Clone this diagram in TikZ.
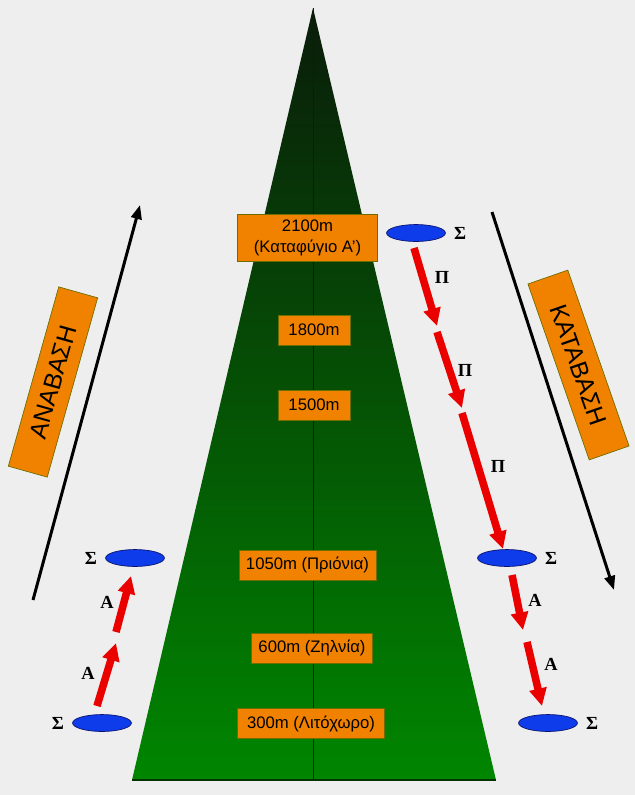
\documentclass[tikz,border=0pt]{standalone}
\usepackage{fontspec}
\setmainfont{Liberation Sans}
\newfontfamily\tnr{Liberation Serif}
\usetikzlibrary{arrows.meta,calc,positioning,shapes.geometric}
\definecolor{bgcol}{RGB}{238,238,238}
\definecolor{boxfill}{RGB}{240,130,0}
\definecolor{boxedge}{RGB}{110,110,0}
\definecolor{peak}{RGB}{10,28,10}
\definecolor{foot}{RGB}{0,134,0}
\definecolor{stopfill}{RGB}{15,60,235}
\definecolor{stopedge}{RGB}{10,20,110}
\definecolor{legred}{RGB}{235,0,0}
\tikzset{
  altbox/.style={draw=boxedge,fill=boxfill,font=\fontsize{9.5}{12}\selectfont,
    align=center,inner xsep=4pt,inner ysep=0pt,minimum height=17pt},
  dirbox/.style={altbox,font=\fontsize{14}{16}\selectfont,minimum width=106pt,minimum height=23pt},
  stopmark/.style={ellipse,draw=stopedge,fill=stopfill,minimum width=33.5pt,
    minimum height=9.6pt,inner sep=0pt},
  sig/.style={font=\tnr\bfseries\fontsize{10.5}{11}\selectfont,inner sep=0pt},
  legarrow/.style={draw=legred,line width=4.3pt,-{Triangle[length=10pt,width=9.5pt]}},
  wayarrow/.style={line width=1.7pt,-{Triangle[length=8pt,width=6pt]}}
}
\begin{document}
\begin{tikzpicture}[x=0.02cm,y=-0.02cm]
  \fill[bgcol] (0,0) rectangle (635,795);
  % mountain
  \shade[top color=peak,bottom color=foot] (313,8) -- (496,780) -- (132,780) -- cycle;
  \draw[black!85!green] (313,8) -- (313,780);
  \draw[black!80!green,line width=1pt] (132,780) -- (496,780);
  % altitudes
  \node[altbox,inner ysep=3pt,minimum width=80pt] (h2100) at (307.5,237.5) {2100m\\(Καταφύγιο Α’)};
  \node[altbox,minimum width=41pt] (h1800) at (314,330) {1800m};
  \node[altbox,minimum width=41pt] (h1500) at (314,405) {1500m};
  \node[altbox] (h1050) at (307.5,565) {1050m (Πριόνια)};
  \node[altbox] (h600) at (312,648) {600m (Ζηλνία)};
  \node[altbox,minimum width=84pt] (h300) at (311,723.5) {300m (Λιτόχωρο)};
  % up / down
  \node[dirbox,rotate=74.3] (up) at (53,382) {ΑΝΑΒΑΣΗ};
  \node[dirbox,rotate=-70.8,minimum height=24pt] (down) at (578.5,365) {ΚΑΤΑΒΑΣΗ};
  \coordinate (upa) at (33,600);
  \coordinate (upb) at (140,205);
  \coordinate (downa) at (492,212);
  \coordinate (downb) at (614,590);
  \draw[wayarrow] (upa) -- (upb);
  \draw[wayarrow] (downa) -- (downb);
  % stops
  \node[stopmark] (eTR) at (416,233) {};
  \node[stopmark] (eMR) at (507,558) {};
  \node[stopmark] (eBR) at (548,723) {};
  \node[stopmark] (eML) at (135,558) {};
  \node[stopmark] (eBL) at (102,723) {};
  \node[sig,right=4.5pt of eTR] (sTR) {Σ};
  \node[sig,right=4.5pt of eMR] (sMR) {Σ};
  \node[sig,right=4.5pt of eBR] (sBR) {Σ};
  \node[sig,left=4.5pt of eML] (sML) {Σ};
  \node[sig,left=4.5pt of eBL] (sBL) {Σ};
  % legs, right side
  \coordinate (r1a) at (414,248); \coordinate (r1b) at (437,326);
  \coordinate (r2a) at (437,332); \coordinate (r2b) at (462,408);
  \coordinate (r3a) at (462,413); \coordinate (r3b) at (503,549);
  \coordinate (r4a) at (512,575); \coordinate (r4b) at (523,630);
  \coordinate (r5a) at (527,642); \coordinate (r5b) at (542,706);
  \draw[legarrow] (r1a) -- (r1b);
  \draw[legarrow] (r2a) -- (r2b);
  \draw[legarrow] (r3a) -- (r3b);
  \draw[legarrow] (r4a) -- (r4b);
  \draw[legarrow] (r5a) -- (r5b);
  \node[sig] (p1) at (442,277) {Π};
  \node[sig] (p2) at (465,370) {Π};
  \node[sig] (p3) at (498,466) {Π};
  \node[sig] (a3) at (535,600) {Α};
  \node[sig] (a4) at (551,664) {Α};
  % legs, left side
  \coordinate (l1a) at (97,706); \coordinate (l1b) at (116,643);
  \coordinate (l2a) at (116,632); \coordinate (l2b) at (131,576);
  \draw[legarrow] (l1a) -- (l1b);
  \draw[legarrow] (l2a) -- (l2b);
  \node[sig] (a1) at (88,673) {Α};
  \node[sig] (a2) at (107,602) {Α};
\end{tikzpicture}
\end{document}
